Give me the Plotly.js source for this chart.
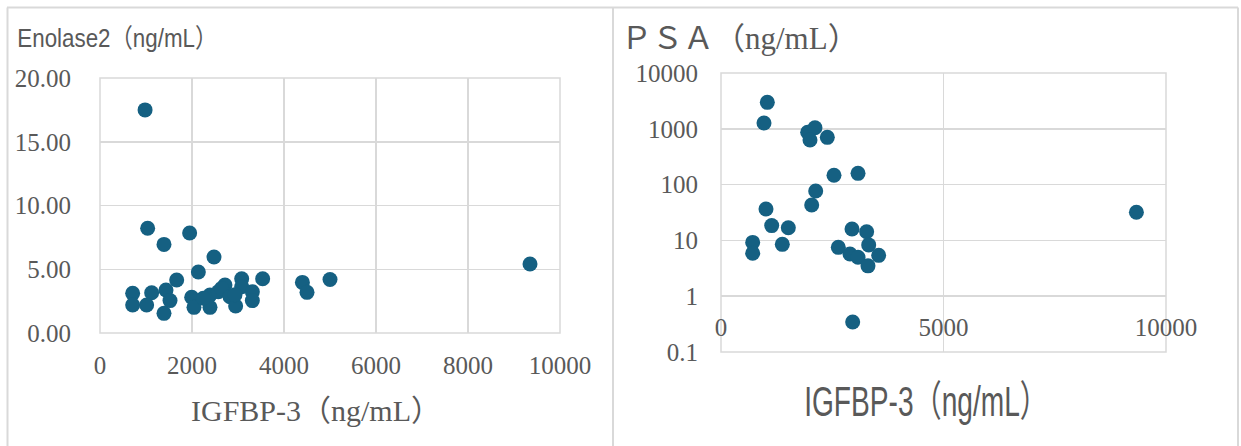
<!DOCTYPE html>
<html>
<head>
<meta charset="utf-8">
<script src="https://cdn.plot.ly/plotly-3.0.1.min.js"></script>
<style>
  html, body { margin: 0; padding: 0; background: #ffffff; }
  #chart { width: 1241px; height: 446px; }
</style>
</head>
<body>
<div id="chart"></div>
<script>
// ---- Data: Enolase2 vs IGFBP-3 (left chart) ----
const enoX = [980, 1036, 1949, 1391, 2478, 2138, 1667, 3536, 3080, 710, 710, 1123, 1014, 1435, 1522, 1391,
              1993, 2043, 2391, 2391, 2246, 2572, 2717, 2645, 2826, 2949, 3080, 3312, 3312, 2935,
              4400, 4500, 5000, 9348];
const enoY = [17.5, 8.21, 7.84, 6.95, 5.96, 4.78, 4.16, 4.26, 4.26, 3.11, 2.20, 3.16, 2.20, 3.37, 2.54, 1.54,
              2.80, 2.01, 2.98, 2.01, 2.72, 3.24, 3.76, 3.50, 2.85, 2.12, 3.63, 3.24, 2.54, 3.0,
              3.97, 3.19, 4.20, 5.41];

// ---- Data: PSA vs IGFBP-3 (right chart) ----
const psaX = [1041, 966, 1948, 2112, 2000, 2389, 2539, 3079, 2128, 2038, 1011, 1139, 1513, 712, 712, 1378,
              2944, 3273, 3319, 2636, 2899, 3079, 3543, 3303, 2959, 9335];
const psaY = [2980, 1270, 865, 1047, 630, 703, 147, 159, 77, 43, 36.5, 18.4, 16.9, 9.2, 5.9, 8.5,
              16, 14.3, 8.3, 7.5, 5.7, 5.0, 5.4, 3.5, 0.345, 32];

// ---- Tick labels ----
const leftXTicks = [0, 2000, 4000, 6000, 8000, 10000];
const leftYTicks = [0, 5, 10, 15, 20];
const leftYLabels = ['0.00', '5.00', '10.00', '15.00', '20.00'];
const rightXTicks = [0, 5000, 10000];
const rightYTicks = [0.1, 1, 10, 100, 1000, 10000];
const rightYLabels = ['0.1', '1', '10', '100', '1000', '10000'];

// ---- Text ----
const leftTitle = 'Enolase2（ng/mL）';
const leftXTitle = 'IGFBP-3（ng/mL）';
const rightTitle = 'ＰＳＡ（ng/mL）';
const rightXTitle = 'IGFBP-3（ng/mL）';

const W = 1241, H = 446;
const px = v => v / W;
const py = v => 1 - v / H;

const MARK = '#156082';
const GRID = '#d9d9d9';
const TXT = '#595959';
const SERIF = '"Liberation Serif", "Noto Sans CJK JP", serif';
const SANS = '"Liberation Sans", "Noto Sans CJK JP", sans-serif';

const data = [
  { type: 'scatter', mode: 'markers', x: enoX, y: enoY, xaxis: 'x', yaxis: 'y',
    marker: { color: MARK, size: 15, line: { width: 0 } }, hoverinfo: 'skip' },
  { type: 'scatter', mode: 'markers', x: psaX, y: psaY, xaxis: 'x2', yaxis: 'y2',
    marker: { color: MARK, size: 15, line: { width: 0 } }, hoverinfo: 'skip' }
];

const tickFont = { family: SERIF, size: 25, color: TXT };

const layout = {
  width: W, height: H,
  margin: { l: 0, r: 0, t: 0, b: 0 },
  paper_bgcolor: '#ffffff', plot_bgcolor: '#ffffff',
  showlegend: false,
  xaxis: {
    domain: [px(100), px(560)], anchor: 'y',
    range: [0, 10000], tickvals: leftXTicks, ticktext: leftXTicks.map(String),
    showgrid: true, gridcolor: GRID, gridwidth: 1.5, zeroline: false, showline: false,
    ticks: '', tickfont: tickFont, ticklabelstandoff: 15, fixedrange: true
  },
  yaxis: {
    domain: [py(333), py(78)], anchor: 'x',
    range: [0, 20], tickvals: leftYTicks, ticktext: leftYLabels,
    showgrid: true, gridcolor: GRID, gridwidth: 1.5, zeroline: false, showline: false,
    ticks: '', tickfont: tickFont, ticklabelstandoff: 28, fixedrange: true
  },
  xaxis2: {
    domain: [px(721), px(1166)], anchor: 'free', position: py(296),
    range: [0, 10000], tickvals: rightXTicks, ticktext: rightXTicks.map(String),
    showgrid: true, gridcolor: GRID, gridwidth: 1.5, zeroline: false, showline: false,
    ticks: '', tickfont: tickFont, ticklabelstandoff: 14, fixedrange: true
  },
  yaxis2: {
    domain: [py(352), py(73)], anchor: 'x2', type: 'log',
    range: [-1, 4], tickvals: rightYTicks, ticktext: rightYLabels,
    showgrid: true, gridcolor: GRID, gridwidth: 1.5, zeroline: false, showline: false,
    ticks: '', tickfont: tickFont, ticklabelstandoff: 22, fixedrange: true
  },
  shapes: [
    // plot area frames
    { type: 'rect', xref: 'x domain', yref: 'y domain', x0: 0, x1: 1, y0: 0, y1: 1,
      line: { color: GRID, width: 1.5 }, layer: 'below' },
    { type: 'rect', xref: 'x2 domain', yref: 'y2 domain', x0: 0, x1: 1, y0: 0, y1: 1,
      line: { color: GRID, width: 1.5 }, layer: 'below' },
    // horizontal axis line of log chart (crosses at 1)
    { type: 'line', xref: 'x2 domain', yref: 'y2', x0: 0, x1: 1, y0: 1, y1: 1,
      line: { color: '#cfcfcf', width: 1.5 }, layer: 'below' },
    // panel borders
    { type: 'line', xref: 'paper', yref: 'paper', x0: px(7), x1: px(1238), y0: py(7.5), y1: py(7.5),
      line: { color: GRID, width: 2 } },
    { type: 'line', xref: 'paper', yref: 'paper', x0: px(7.5), x1: px(7.5), y0: 0, y1: py(7.5),
      line: { color: GRID, width: 2 } },
    { type: 'line', xref: 'paper', yref: 'paper', x0: px(613), x1: px(613), y0: 0, y1: py(7.5),
      line: { color: GRID, width: 2 } },
    { type: 'line', xref: 'paper', yref: 'paper', x0: px(1238), x1: px(1238), y0: 0, y1: py(7.5),
      line: { color: GRID, width: 2 } }
  ],
  annotations: [
    { text: leftTitle, xref: 'paper', yref: 'paper', x: px(117), y: py(38),
      xanchor: 'center', yanchor: 'middle', showarrow: false,
      font: { family: SANS, size: 26, color: TXT } },
    { text: leftXTitle, xref: 'paper', yref: 'paper', x: px(316), y: py(410),
      xanchor: 'center', yanchor: 'middle', showarrow: false,
      font: { family: SERIF, size: 30, color: TXT } },
    { text: rightTitle, xref: 'paper', yref: 'paper', x: px(740), y: py(38),
      xanchor: 'center', yanchor: 'middle', showarrow: false,
      font: { family: SERIF, size: 31, color: TXT } },
    { text: rightXTitle, xref: 'paper', yref: 'paper', x: px(926), y: py(401),
      xanchor: 'center', yanchor: 'middle', showarrow: false,
      font: { family: SANS, size: 42, color: TXT } }
  ]
};

// horizontal squeeze applied to annotation texts (condensed look of the original)
const squeeze = [0.86, 1, 1, 0.67];

Plotly.newPlot('chart', data, layout, { staticPlot: true, displayModeBar: false }).then(gd => {
  gd.querySelectorAll('g.annotation').forEach(g => {
    const i = +g.getAttribute('data-index');
    const s = squeeze[i];
    if (s && s !== 1) {
      const t = g.querySelector('text');
      if (t) {
        t.style.transformBox = 'fill-box';
        t.style.transformOrigin = 'center';
        t.style.transform = 'scaleX(' + s + ')';
      }
    }
  });
});
</script>
</body>
</html>
